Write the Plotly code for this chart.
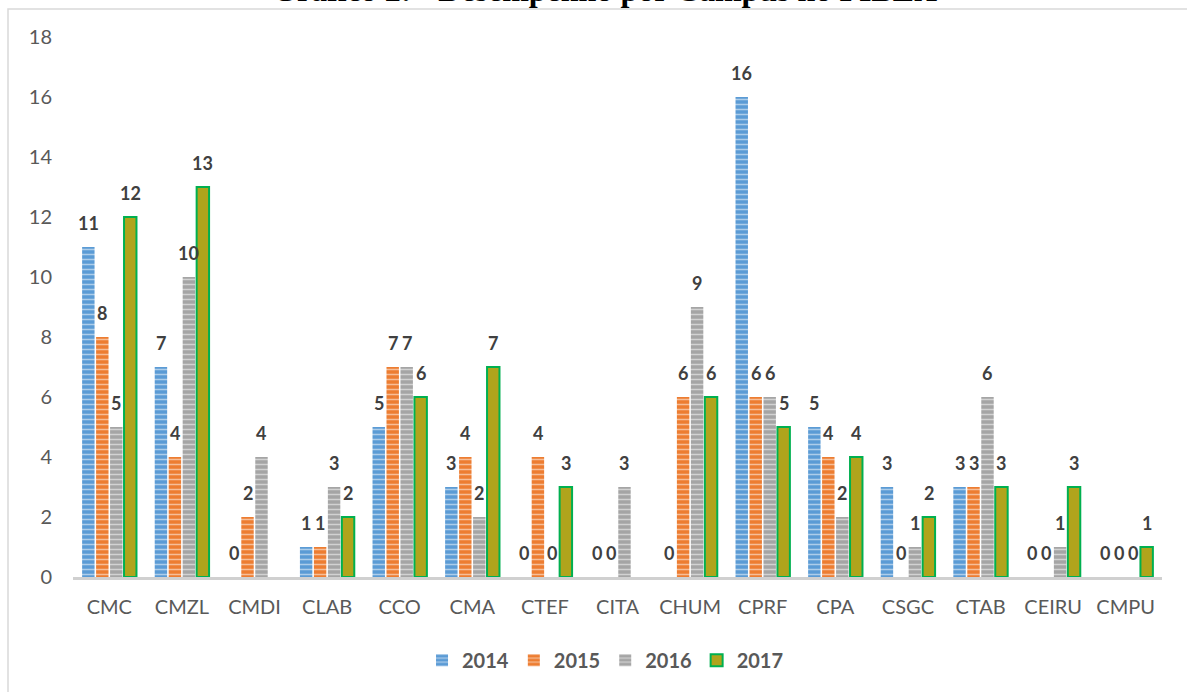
import plotly.graph_objects as go

campi = ["CMC", "CMZL", "CMDI", "CLAB", "CCO", "CMA", "CTEF", "CITA",
         "CHUM", "CPRF", "CPA", "CSGC", "CTAB", "CEIRU", "CMPU"]
anos = ["2014", "2015", "2016", "2017"]
v2014 = [11, 7, 0, 1, 5, 3, 0, 0, 0, 16, 5, 3, 3, 0, 0]
v2015 = [8, 4, 2, 1, 7, 4, 4, 0, 6, 6, 4, 0, 3, 0, 0]
v2016 = [5, 10, 4, 3, 7, 2, 0, 3, 9, 6, 2, 1, 6, 1, 0]
v2017 = [12, 13, None, 2, 6, 7, 3, None, 6, 5, 4, 2, 3, 3, 1]
y_ticks = [0, 2, 4, 6, 8, 10, 12, 14, 16, 18]

cores = ["#5B9BD5", "#ED7D31", "#A5A5A5", "#B0A41C"]
valores = [v2014, v2015, v2016, v2017]

W, H = 1187, 692
ML, MR, MT, MB = 73, 25, 37, 115
BARGAP = 0.23
# width of one bar slot inside a category, in pixels (for the value labels)
slot = (W - ML - MR) / len(campi) * (1 - BARGAP) / len(anos)

fig = go.Figure()
notas = []
for i, (ano, vals, cor) in enumerate(zip(anos, valores, cores)):
    if ano == "2017":
        marker = dict(color=cor, line=dict(color="#00B050", width=2))
    else:
        marker = dict(
            color=cor,
            line=dict(width=0),
            pattern=dict(shape="-", fgcolor="white", bgcolor=cor,
                         size=5, solidity=0.3),
        )
    fig.add_trace(go.Bar(name=ano, x=campi, y=vals, marker=marker))
    for c, v in zip(campi, vals):
        if v is None:
            continue
        notas.append(dict(
            x=c, y=v, xref="x", yref="y", text=str(v), showarrow=False,
            yanchor="bottom", yshift=11, xshift=(i - 1.5) * slot,
            font=dict(family="Lato", size=18, color="#404040", weight="bold"),
        ))

notas.append(dict(
    text="Gráfico 2: - Desempenho por Campus no PIBEX",
    xref="paper", yref="paper", x=0.488, y=1.05, yanchor="bottom",
    showarrow=False,
    font=dict(family="Liberation Serif", size=32, color="black", weight="bold"),
))

fig.update_layout(
    width=W, height=H,
    paper_bgcolor="white", plot_bgcolor="white",
    barmode="group", bargap=BARGAP, bargroupgap=0.11,
    margin=dict(l=ML, r=MR, t=MT, b=MB),
    font=dict(family="Lato", color="#595959"),
    legend=dict(orientation="h", x=0.489, xanchor="center", y=-0.154,
                yanchor="middle", font=dict(size=20, color="#595959", weight="bold"),
                itemwidth=30, traceorder="normal"),
    annotations=notas,
    shapes=[dict(type="rect", xref="paper", yref="paper",
                 x0=(8 - ML) / (W - ML - MR), x1=1.2, y0=-0.5,
                 y1=(H - MB - 9) / (H - MT - MB),
                 line=dict(color="#D9D9D9", width=1.5), layer="below")],
)
fig.update_xaxes(showline=True, linecolor="#D0D0D0", linewidth=2.5,
                 ticks="", tickfont=dict(size=20, color="#595959"),
                 showgrid=False, automargin=False, ticklabelstandoff=10)
fig.update_yaxes(range=[0, 18], tickvals=y_ticks, showgrid=False, zeroline=False,
                 tickfont=dict(size=20, color="#595959"), ticks="",
                 ticklabelstandoff=20, automargin=False)

fig.write_html("out.html", config={"displayModeBar": False},
               post_script="document.body.style.margin='0';")
